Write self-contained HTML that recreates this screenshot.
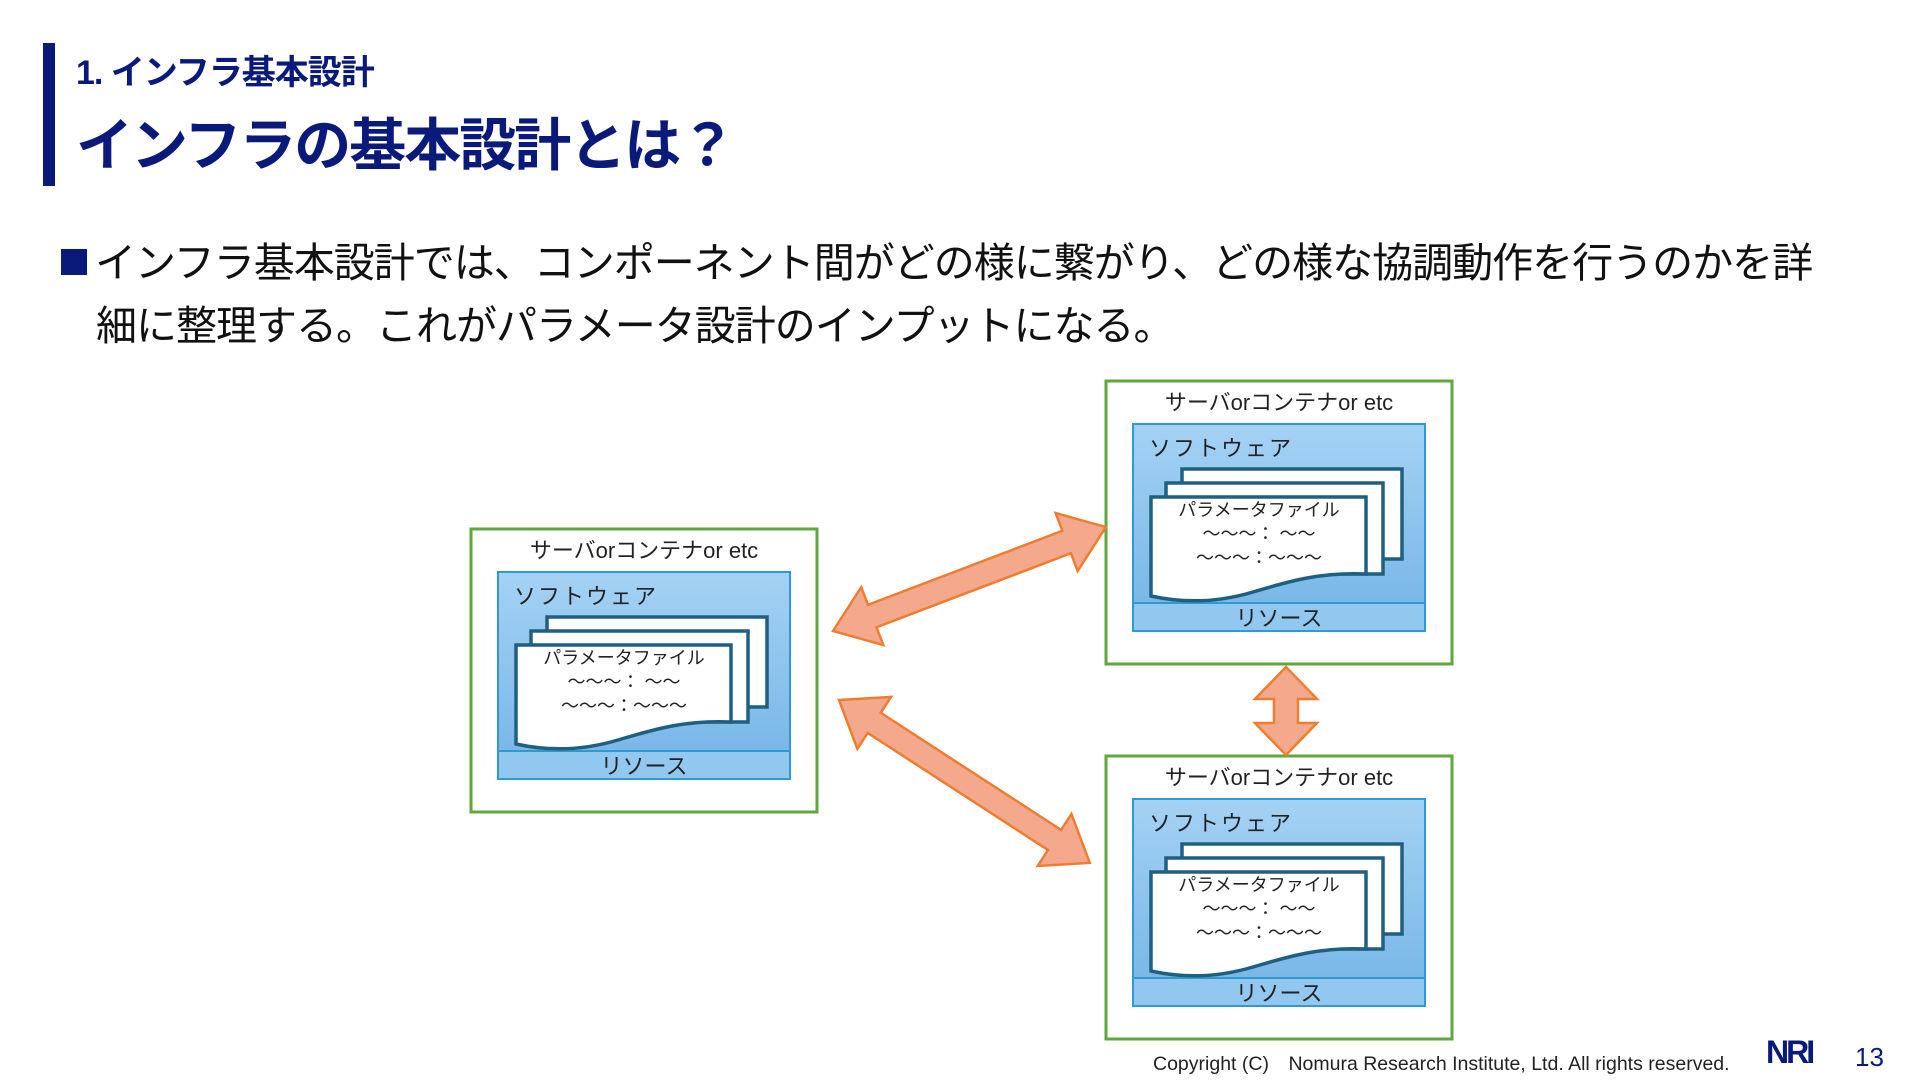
<!DOCTYPE html>
<html><head><meta charset="utf-8"><style>
html,body{margin:0;padding:0;background:#fff;}
body{width:1920px;height:1080px;position:relative;overflow:hidden;font-family:"Liberation Sans","Noto Sans CJK JP",sans-serif;}
.bar{position:absolute;left:43px;top:43px;width:12px;height:143px;background:#0a1a7a;}
.sub{position:absolute;left:76px;top:45px;font-size:34px;font-weight:bold;color:#0a1a7a;letter-spacing:-1px;}
.title{position:absolute;left:76px;top:100px;font-size:57px;font-weight:bold;color:#0a1a7a;letter-spacing:-2px;}
.body{position:absolute;left:61px;top:232px;font-size:41px;color:#111;line-height:63px;letter-spacing:-1px;}
.body .sq{display:inline-block;width:26px;height:26px;background:#0a1a7a;margin-right:8px;vertical-align:2px;}
.foot{position:absolute;left:1153px;top:1047px;font-size:19.5px;color:#222;}
.nri{position:absolute;left:1766px;top:1034px;font-size:32px;font-weight:bold;color:#0a1a7a;letter-spacing:-3px;}
.pg{position:absolute;left:1855px;top:1042px;font-size:26px;color:#0a1a7a;}
svg{position:absolute;left:0;top:0;}
</style></head><body>
<div class="bar"></div>
<div class="sub">1. インフラ基本設計</div>
<div class="title">インフラの基本設計とは？</div>
<div class="body"><span class="sq"></span>インフラ基本設計では、コンポーネント間がどの様に繋がり、どの様な協調動作を行うのかを詳<br><span style="padding-left:35px">細に整理する。これがパラメータ設計のインプットになる。</span></div>
<svg width="1920" height="1080" viewBox="0 0 1920 1080">
<defs>
<linearGradient id="bg" x1="0" y1="0" x2="0" y2="1"><stop offset="0" stop-color="#a4d2f4"/><stop offset="1" stop-color="#7ab8e8"/></linearGradient>
<g id="node" font-family="Liberation Sans, Noto Sans CJK JP, sans-serif">
<rect x="0" y="0" width="346" height="283" fill="#fff" stroke="#5ea83c" stroke-width="3"/>
<text x="173" y="29" font-size="22" text-anchor="middle" fill="#222">サーバorコンテナor etc</text>
<rect x="27" y="43" width="292" height="179" fill="url(#bg)" stroke="#2e9ad0" stroke-width="2"/>
<rect x="27" y="222" width="292" height="28" fill="#92c8ef" stroke="#2e9ad0" stroke-width="2"/>
<text x="173" y="245" font-size="22" text-anchor="middle" fill="#222">リソース</text>
<text x="43" y="75" font-size="22" fill="#222" letter-spacing="2">ソフトウェア</text>
<g transform="translate(27,43)" stroke="#1f5f80" stroke-width="3.5" fill="#fff">
<rect x="49" y="45" width="220" height="90"/>
<rect x="33" y="59" width="217" height="91"/>
<path d="M18,73 H233 V150 C190,148 160,156 120,168 C80,180 45,178 18,172 Z"/>
</g>
<g font-size="18" fill="#222" text-anchor="middle">
<text x="153" y="135">パラメータファイル</text>
<text x="153" y="159">〜〜〜： 〜〜</text>
<text x="153" y="183">〜〜〜：〜〜〜</text>
</g>
</g>
</defs>
<use href="#node" x="471" y="529"/>
<use href="#node" x="1106" y="381"/>
<use href="#node" x="1106" y="756"/>
<g fill="#f4a98c" stroke="#ed7d31" stroke-width="2.5" stroke-linejoin="miter">
<polygon transform="translate(833,631) rotate(-20.85)" points="0,0 42,-31 42,-12 250,-12 250,-31 292,0 250,31 250,12 42,12 42,31"/>
<polygon transform="translate(839,700) rotate(33)" points="0,0 42,-31 42,-12 257,-12 257,-31 299,0 257,31 257,12 42,12 42,31"/>
<polygon transform="translate(1286,667) rotate(90)" points="0,0 32,-31 32,-12 56,-12 56,-31 88,0 56,31 56,12 32,12 32,31"/>
</g>
</svg>
<div class="foot">Copyright (C)　Nomura Research Institute, Ltd. All rights reserved.</div>
<div class="nri">NRI</div>
<div class="pg">13</div>
</body></html>
